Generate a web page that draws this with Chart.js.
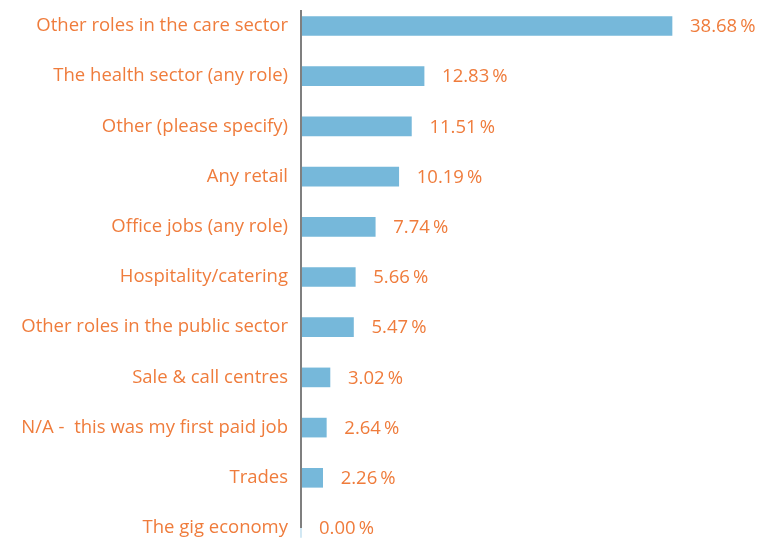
<!DOCTYPE html>
<html>
<head>
<meta charset="utf-8">
<script src="https://cdn.jsdelivr.net/npm/chart.js@4.4.0/dist/chart.umd.min.js"></script>
<style>
  html, body { margin: 0; padding: 0; background: #fff; }
  #wrap { width: 777px; height: 540px; }
</style>
</head>
<body>
<div id="wrap"><canvas id="chart"></canvas></div>
<script>
// === DATA ===
const categories = [
  'Other roles in the care sector',
  'The health sector (any role)',
  'Other (please specify)',
  'Any retail',
  'Office jobs (any role)',
  'Hospitality/catering',
  'Other roles in the public sector',
  'Sale & call centres',
  'N/A -  this was my first paid job',
  'Trades',
  'The gig economy'
];
const shares = [38.68, 12.83, 11.51, 10.19, 7.74, 5.66, 5.47, 3.02, 2.64, 2.26, 0.00];

const colors = {
  bar: '#76B8DA',
  text: '#EF7C3C',
  axis: '#7F7F7F'
};
const fontFamily = '"Open Sans", sans-serif';
const fontSize = 18.5;

// Axe vertical + valeurs en bout de barre
const annotatePlugin = {
  id: 'annotate',
  afterDatasetsDraw(chart) {
    const { ctx, scales } = chart;
    const x0 = scales.x.getPixelForValue(0);
    ctx.save();
    ctx.strokeStyle = colors.axis;
    ctx.lineWidth = 2;
    ctx.beginPath();
    ctx.moveTo(x0, 10);
    ctx.lineTo(x0, chart.chartArea.bottom);
    ctx.stroke();

    ctx.fillStyle = colors.text;
    ctx.font = fontSize + 'px ' + fontFamily;
    ctx.textAlign = 'left';
    ctx.textBaseline = 'middle';
    chart.getDatasetMeta(0).data.forEach((bar, i) => {
      ctx.fillText(shares[i].toFixed(2) + '\u2009%', bar.x + 18, bar.y + 1);
    });
    ctx.restore();
  }
};

const ctx = document.getElementById('chart').getContext('2d');
new Chart(ctx, {
  type: 'bar',
  data: {
    labels: categories,
    datasets: [{
      data: shares,
      backgroundColor: colors.bar,
      barThickness: 19,
      clip: false
    }]
  },
  options: {
    indexAxis: 'y',
    responsive: true,
    maintainAspectRatio: false,
    animation: false,
    layout: { padding: { top: 26, bottom: 12, left: 0, right: 6 } },
    plugins: {
      legend: { display: false },
      tooltip: { enabled: false }
    },
    scales: {
      x: {
        display: false,
        min: 0,
        max: 49
      },
      y: {
        offset: false,
        grid: { display: false, drawTicks: false },
        border: { display: false },
        afterFit: (scale) => {
          scale.width = 301;
          scale.paddingTop = 0;
          scale.paddingBottom = 0;
        },
        ticks: {
          autoSkip: false,
          padding: 13,
          color: colors.text,
          font: { family: fontFamily, size: fontSize }
        }
      }
    }
  },
  plugins: [annotatePlugin]
});
</script>
</body>
</html>
